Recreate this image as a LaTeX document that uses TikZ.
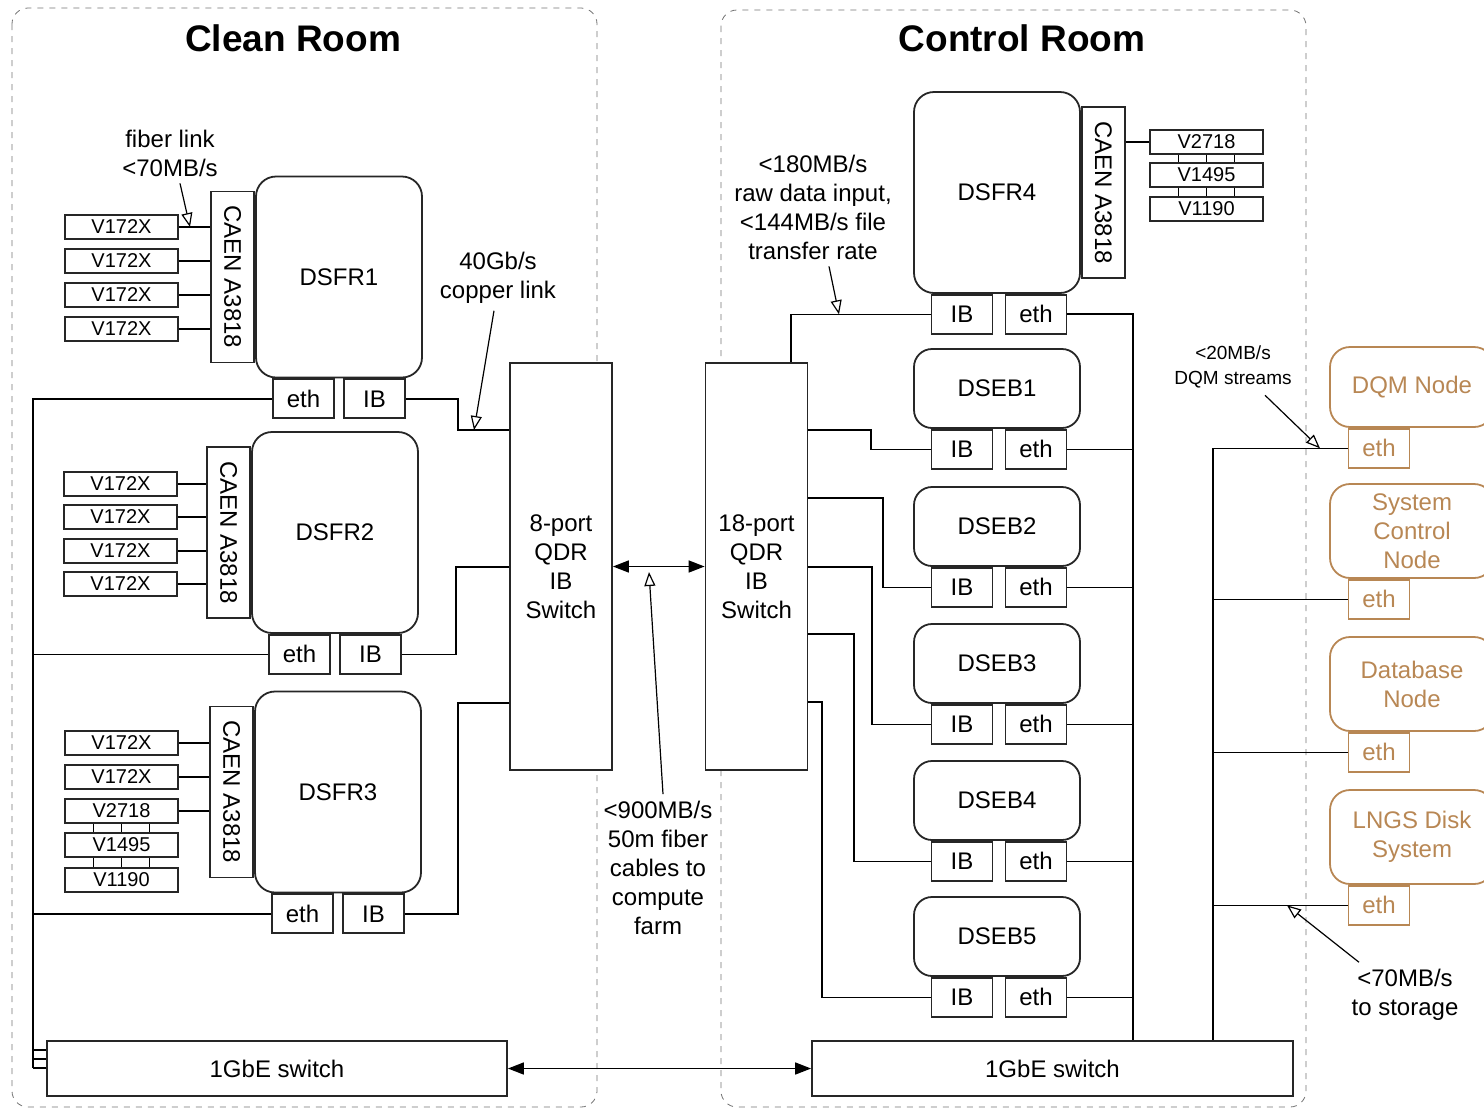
\documentclass[tikz,border=0pt]{standalone}
\usepackage{fontspec}
\setmainfont{Liberation Sans}
\usetikzlibrary{arrows.meta,positioning,calc}
\definecolor{nodebrown}{rgb}{0.72,0.53,0.33}
\definecolor{roomgray}{rgb}{0.45,0.45,0.45}

\begin{document}
\begin{tikzpicture}[
  x=0.5pt, y=-0.5pt,
  >={Triangle[length=8pt,width=6pt]},
  every node/.style={font=\fontsize{12}{14.5}\selectfont},
  room/.style={draw=roomgray, dashed, line width=0.4pt, rounded corners=8pt},
  roomtitle/.style={font=\fontsize{18.5}{22}\selectfont\bfseries},
  board/.style={draw=black!85, line width=0.9pt, rounded corners=10pt, minimum width=83pt, minimum height=100.5pt},
  evb/.style={board, minimum height=39.5pt, rounded corners=9pt},
  port/.style={draw=black!85, line width=0.9pt, minimum width=30.5pt, minimum height=19.5pt, inner sep=0pt},
  caen/.style={draw=black!85, line width=0.9pt, minimum width=85.5pt, minimum height=21.5pt, inner sep=0pt, rotate=-90},
  vme/.style={draw=black!85, line width=0.9pt, minimum width=56.5pt, minimum height=12pt, inner sep=0pt, font=\fontsize{10}{12}\selectfont},
  ibsw/.style={draw=black!85, line width=0.9pt, fill=white, minimum width=51pt, minimum height=203.5pt, align=center},
  gbe/.style={draw=black!85, line width=0.9pt, minimum height=27.5pt},
  aux/.style={draw=nodebrown, text=nodebrown, line width=0.9pt, rounded corners=10pt, minimum width=82pt, align=center},
  auxport/.style={port, draw=nodebrown, text=nodebrown},
  wire/.style={line width=0.8pt},
  bus/.style={line width=1.1pt},
  note/.style={align=center},
  callout/.style={-{Triangle[open,length=7pt,width=5.5pt]}, line width=0.6pt}
]
  \useasboundingbox (0,0) rectangle (1484,1109);

  % the two rooms
  \draw[room] (12,8) rectangle (597,1107);
  \draw[room] (721,10) rectangle (1306,1107);
  \node[roomtitle] (cleantitle) at (293,38) {Clean Room};
  \node[roomtitle] (controltitle) at (1022,38) {Control Room};

  % clean room readout
  \node[board] (dsfr1) at (339,277) {DSFR1};
  \node[caen, anchor=north] (caen1) at (dsfr1.west) {CAEN A3818};
  \node[port, below=0pt of dsfr1.south, xshift=-17.75pt] (eth1) {eth};
  \node[port, below=0pt of dsfr1.south, xshift=17.75pt] (ib1) {IB};
  \node[vme] (va1) at (121.5,227) {V172X};
  \node[vme] (va2) at (121.5,261) {V172X};
  \node[vme] (va3) at (121.5,295) {V172X};
  \node[vme] (va4) at (121.5,329) {V172X};

  \node[board] (dsfr2) at (335,532.5) {DSFR2};
  \node[caen, anchor=north] (caen2) at (dsfr2.west) {CAEN A3818};
  \node[port, below=0pt of dsfr2.south, xshift=-17.75pt] (eth2) {eth};
  \node[port, below=0pt of dsfr2.south, xshift=17.75pt] (ib2) {IB};
  \node[vme] (vb1) at (120.5,484) {V172X};
  \node[vme] (vb2) at (120.5,517) {V172X};
  \node[vme] (vb3) at (120.5,551) {V172X};
  \node[vme] (vb4) at (120.5,584) {V172X};

  \node[board] (dsfr3) at (338,792) {DSFR3};
  \node[caen, anchor=north] (caen3) at (dsfr3.west) {CAEN A3818};
  \node[port, below=0pt of dsfr3.south, xshift=-17.75pt] (eth3) {eth};
  \node[port, below=0pt of dsfr3.south, xshift=17.75pt] (ib3) {IB};
  \node[vme] (vc1) at (121.5,743) {V172X};
  \node[vme] (vc2) at (121.5,777) {V172X};
  \node[vme] (vc3) at (121.5,811) {V2718};
  \node[vme] (vc4) at (121.5,845) {V1495};
  \node[vme] (vc5) at (121.5,880) {V1190};

  % switches
  \node[ibsw] (ibswA) at (561,566.5) {8-port\\QDR\\IB\\Switch};
  \node[ibsw] (ibswB) at (756.5,566.5) {18-port\\QDR\\IB\\Switch};
  \node[gbe, minimum width=230pt] (gbeA) at (277,1068.5) {1GbE switch};
  \node[gbe, minimum width=240.5pt] (gbeB) at (1052.5,1068.5) {1GbE switch};

  % control room
  \node[board] (dsfr4) at (997,192.5) {DSFR4};
  \node[caen, anchor=south] (caen4) at (dsfr4.east) {CAEN A3818};
  \node[port, below=0pt of dsfr4.south, xshift=-17.5pt] (ib4) {IB};
  \node[port, below=0pt of dsfr4.south, xshift=19.5pt] (eth4) {eth};
  \node[vme] (vd1) at (1206.5,142) {V2718};
  \node[vme] (vd2) at (1206.5,175) {V1495};
  \node[vme] (vd3) at (1206.5,209) {V1190};

  \node[evb] (dseb1) at (997,388.5) {DSEB1};
  \node[port, below=0pt of dseb1.south, xshift=-17.5pt] (ibb1) {IB};
  \node[port, below=0pt of dseb1.south, xshift=19.5pt] (ethb1) {eth};
  \node[evb] (dseb2) at (997,526.5) {DSEB2};
  \node[port, below=0pt of dseb2.south, xshift=-17.5pt] (ibb2) {IB};
  \node[port, below=0pt of dseb2.south, xshift=19.5pt] (ethb2) {eth};
  \node[evb] (dseb3) at (997,663.5) {DSEB3};
  \node[port, below=0pt of dseb3.south, xshift=-17.5pt] (ibb3) {IB};
  \node[port, below=0pt of dseb3.south, xshift=19.5pt] (ethb3) {eth};
  \node[evb] (dseb4) at (997,800.5) {DSEB4};
  \node[port, below=0pt of dseb4.south, xshift=-17.5pt] (ibb4) {IB};
  \node[port, below=0pt of dseb4.south, xshift=19.5pt] (ethb4) {eth};
  \node[evb] (dseb5) at (997,936.5) {DSEB5};
  \node[port, below=0pt of dseb5.south, xshift=-17.5pt] (ibb5) {IB};
  \node[port, below=0pt of dseb5.south, xshift=19.5pt] (ethb5) {eth};

  % outside the rooms
  \node[aux, minimum height=40pt] (dqm) at (1412,387) {DQM Node};
  \node[auxport, below=0pt of dqm.south, xshift=-16.5pt] (dqmeth) {eth};
  \node[aux, minimum height=47pt] (scn) at (1412,531) {System\\Control\\Node};
  \node[auxport, below=0pt of scn.south, xshift=-16.5pt] (scneth) {eth};
  \node[aux, minimum height=47pt] (dbn) at (1412,684) {Database\\Node};
  \node[auxport, below=0pt of dbn.south, xshift=-16.5pt] (dbneth) {eth};
  \node[aux, minimum height=47pt] (lngs) at (1412,837) {LNGS Disk\\System};
  \node[auxport, below=0pt of lngs.south, xshift=-16.5pt] (lngseth) {eth};

  % digitizer links
  \draw[wire] (va1.east) -- (va1.east -| caen1.south);
  \draw[wire] (va2.east) -- (va2.east -| caen1.south);
  \draw[wire] (va3.east) -- (va3.east -| caen1.south);
  \draw[wire] (va4.east) -- (va4.east -| caen1.south);
  \draw[wire] (vb1.east) -- (vb1.east -| caen2.south);
  \draw[wire] (vb2.east) -- (vb2.east -| caen2.south);
  \draw[wire] (vb3.east) -- (vb3.east -| caen2.south);
  \draw[wire] (vb4.east) -- (vb4.east -| caen2.south);
  \draw[wire] (vc1.east) -- (vc1.east -| caen3.south);
  \draw[wire] (vc2.east) -- (vc2.east -| caen3.south);
  \draw[wire] (vc3.east) -- (vc3.east -| caen3.south);
  \draw[wire] ([xshift=-14pt]vc3.south) -- ([xshift=-14pt]vc4.north) (vc3.south) -- (vc4.north) ([xshift=14pt]vc3.south) -- ([xshift=14pt]vc4.north);
  \draw[wire] ([xshift=-14pt]vc4.south) -- ([xshift=-14pt]vc5.north) (vc4.south) -- (vc5.north) ([xshift=14pt]vc4.south) -- ([xshift=14pt]vc5.north);
  \draw[wire] (caen4.north |- vd1.west) -- (vd1.west);
  \draw[wire] ([xshift=-14pt]vd1.south) -- ([xshift=-14pt]vd2.north) (vd1.south) -- (vd2.north) ([xshift=14pt]vd1.south) -- ([xshift=14pt]vd2.north);
  \draw[wire] ([xshift=-14pt]vd2.south) -- ([xshift=-14pt]vd3.north) (vd2.south) -- (vd3.north) ([xshift=14pt]vd2.south) -- ([xshift=14pt]vd3.north);

  % infiniband
  \draw[wire] (ib1.east) -| (458,430) -- (ibswA.west |- 0,430);
  \draw[wire] (ib2.east) -| (456,567) -- (ibswA.west |- 0,567);
  \draw[wire] (ib3.east) -| (458,703) -- (ibswA.west |- 0,703);
  \draw[wire] (ib4.west) -| (ibswB.north -| 791,0);
  \draw[wire] (ibb1.west) -| (871,430) -- (ibswB.east |- 0,430);
  \draw[wire] (ibb2.west) -| (883,498) -- (ibswB.east |- 0,498);
  \draw[wire] (ibb3.west) -| (872,567) -- (ibswB.east |- 0,567);
  \draw[wire] (ibb4.west) -| (854,634) -- (ibswB.east |- 0,634);
  \draw[wire] (ibb5.west) -| (822,702) -- (ibswB.east |- 0,702);
  \draw[wire,<->] (ibswA.east) -- (ibswB.west);

  % ethernet
  \coordinate (busA) at (33,1068);
  \draw[wire] (eth1.west) -| (busA);
  \draw[wire] (eth2.west) -- (eth2.west -| busA);
  \draw[wire] (eth3.west) -- (eth3.west -| busA);
  \draw[wire] (busA) -- (busA -| gbeA.west) (33,1059) -- (gbeA.west |- 0,1059) (33,1050) -- (gbeA.west |- 0,1050);
  \draw[bus] (eth4.east) -| (gbeB.north -| 1133,0);
  \draw[wire] (ethb1.east) -- (ethb1.east -| 1133,0);
  \draw[wire] (ethb2.east) -- (ethb2.east -| 1133,0);
  \draw[wire] (ethb3.east) -- (ethb3.east -| 1133,0);
  \draw[wire] (ethb4.east) -- (ethb4.east -| 1133,0);
  \draw[wire] (ethb5.east) -- (ethb5.east -| 1133,0);
  \draw[wire] (dqmeth.west) -| (gbeB.north -| 1213,0);
  \draw[wire] (scneth.west) -- (scneth.west -| 1213,0);
  \draw[wire] (dbneth.west) -- (dbneth.west -| 1213,0);
  \draw[wire] (lngseth.west) -- (lngseth.west -| 1213,0);
  \draw[wire,<->] (gbeA.east) -- (gbeB.west);

  % rates
  \node[note] (fiberlbl) at (170,153) {fiber link\\<70MB/s};
  \draw[callout] ([xshift=5pt]fiberlbl.south) -- (190,0 |- va1.east);
  \node[note] (copperlbl) at (498,278) {40Gb/s\\copper link};
  \draw[callout] ([xshift=-2pt]copperlbl.south) -- (474,430);
  \node[note] (rawlbl) at (813,207) {<180MB/s\\raw data input,\\<144MB/s file\\transfer rate};
  \draw[callout] ([xshift=8pt]rawlbl.south) -- (839,0 |- ib4.west);
  \node[note] (farmlbl) at (658,868) {<900MB/s\\50m fiber\\cables to\\compute\\farm};
  \draw[callout] ([xshift=2.5pt]farmlbl.north) -- (649,572);
  \node[note, font=\fontsize{9.5}{12.5}\selectfont] (dqmlbl) at (1233,367) {<20MB/s\\DQM streams};
  \draw[callout] ([xshift=16pt]dqmlbl.south) -- (1320,0 |- dqmeth.west);
  \node[note] (storelbl) at (1405,995) {<70MB/s\\to storage};
  \draw[callout] ([xshift=-23pt]storelbl.north) -- (1287,0 |- lngseth.west);
\end{tikzpicture}
\end{document}
